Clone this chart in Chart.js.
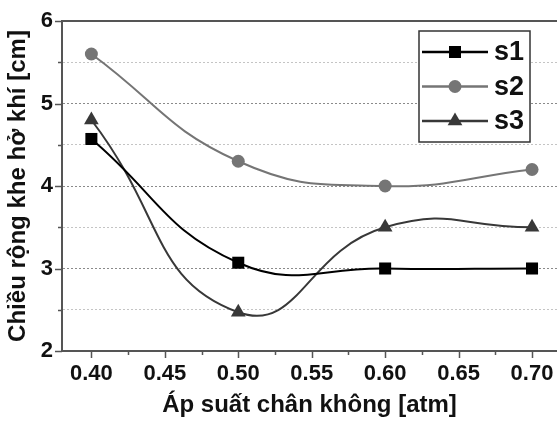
<!DOCTYPE html>
<html>
<head>
<meta charset="utf-8">
<script src="https://cdn.jsdelivr.net/npm/chart.js@4.4.1/dist/chart.umd.min.js"></script>
<style>
  html, body { margin: 0; padding: 0; background: #fff; }
  #wrap { width: 557px; height: 425px; }
</style>
</head>
<body>
<div id="wrap"><canvas id="c" width="557" height="425"></canvas></div>
<script>
// data
const pressure = [0.40, 0.50, 0.60, 0.70];
const s1 = [4.57, 3.07, 3.00, 3.00];
const s2 = [5.60, 4.30, 4.00, 4.20];
const s3 = [4.80, 2.47, 3.50, 3.50];
const seriesNames = ['s1', 's2', 's3'];
const xTicks = [0.40, 0.45, 0.50, 0.55, 0.60, 0.65, 0.70];
const xMinorTicks = [0.425, 0.475, 0.525, 0.575, 0.625, 0.675, 0.725];
const yTicks = [2, 2.5, 3, 3.5, 4, 4.5, 5, 5.5, 6];

const FONT = "'Liberation Sans', Arial, sans-serif";
const AXIS = '#555';

const toPoints = vals => vals.map((v, i) => ({ x: pressure[i], y: v }));

// draws tick marks, top frame line and the boxed legend
const frame = {
    id: 'frame',
    afterDraw(chart) {
        const ctx = chart.ctx;
        const area = chart.chartArea;
        const xs = chart.scales.x, ys = chart.scales.y;
        ctx.save();
        ctx.strokeStyle = AXIS;
        ctx.lineWidth = 2;
        ctx.beginPath();
        ctx.moveTo(area.left - 1, area.top);
        ctx.lineTo(area.right, area.top);
        ctx.stroke();

        ctx.lineWidth = 1.5;
        ctx.beginPath();
        xTicks.forEach(v => {
            const px = Math.round(xs.getPixelForValue(v)) + 0.5;
            ctx.moveTo(px, area.bottom); ctx.lineTo(px, area.bottom + 7);
        });
        xMinorTicks.forEach(v => {
            const px = Math.round(xs.getPixelForValue(v)) + 0.5;
            if (px > area.right) return;
            ctx.moveTo(px, area.bottom); ctx.lineTo(px, area.bottom + 4);
        });
        yTicks.forEach(v => {
            const py = Math.round(ys.getPixelForValue(v)) + 0.5;
            const len = Number.isInteger(v) ? 7 : 4;
            ctx.moveTo(area.left, py); ctx.lineTo(area.left - len, py);
        });
        ctx.stroke();

        // legend box
        const bx = 419, by = 31, bw = 111, bh = 111;
        ctx.fillStyle = '#fff';
        ctx.fillRect(bx, by, bw, bh);
        ctx.strokeStyle = '#333';
        ctx.lineWidth = 1.5;
        ctx.strokeRect(bx, by, bw, bh);
        chart.data.datasets.forEach((ds, i) => {
            const cy = 52 + i * 34.5;
            ctx.strokeStyle = ds.borderColor;
            ctx.lineWidth = 2.5;
            ctx.beginPath();
            ctx.moveTo(422, cy); ctx.lineTo(488, cy);
            ctx.stroke();
            ctx.fillStyle = ds.pointBackgroundColor;
            Chart.helpers.drawPoint(ctx, {
                pointStyle: ds.pointStyle, radius: ds.pointRadius, rotation: 0, borderWidth: 0
            }, 455, cy);
            ctx.fillStyle = '#111';
            ctx.font = 'bold 27px ' + FONT;
            ctx.textBaseline = 'middle';
            ctx.textAlign = 'left';
            ctx.fillText(seriesNames[i], 494, cy + 1);
        });
        ctx.restore();
    }
};

const mkSet = (label, vals, color, style, r, tension) => ({
    label, data: toPoints(vals),
    borderColor: color, backgroundColor: color,
    pointBackgroundColor: color, pointBorderColor: color,
    pointStyle: style, pointRadius: r, pointBorderWidth: 0,
    borderWidth: 2, tension, fill: false
});

new Chart(document.getElementById('c'), {
    type: 'line',
    data: {
        datasets: [
            mkSet(seriesNames[0], s1, '#000000', 'rect', 8.5, 0.45),
            mkSet(seriesNames[1], s2, '#757575', 'circle', 6.5, 0.45),
            mkSet(seriesNames[2], s3, '#383838', 'triangle', 8.5, 0.5)
        ]
    },
    options: {
        responsive: false,
        animation: false,
        clip: false,
        layout: { autoPadding: false, padding: { top: 21, right: 0, left: 0, bottom: 0 } },
        plugins: { legend: { display: false }, tooltip: { enabled: false } },
        scales: {
            x: {
                type: 'linear', min: 0.38, max: 0.717,
                afterBuildTicks: s => { s.ticks = xTicks.map(v => ({ value: v })); },
                afterFit: s => { s.height = 74; s.paddingRight = 0; s.paddingLeft = 0; },
                grid: { display: true, drawOnChartArea: false, drawTicks: false },
                border: { display: true, color: AXIS, width: 2 },
                ticks: {
                    padding: 10, color: '#111', maxRotation: 0,
                    font: { family: FONT, size: 22, weight: 'bold' },
                    callback: v => v.toFixed(2)
                },
                title: {
                    display: true, text: 'Áp suất chân không [atm]', color: '#111',
                    font: { family: FONT, size: 24, weight: 'bold' },
                    padding: { top: 0, bottom: 5 }
                }
            },
            y: {
                min: 2, max: 6,
                afterBuildTicks: s => { s.ticks = yTicks.map(v => ({ value: v })); },
                afterFit: s => { s.width = 62; s.paddingTop = 0; s.paddingBottom = 0; },
                grid: {
                    drawTicks: false,
                    color: c => (Number.isInteger(c.tick.value) ? '#8a8a8a' : '#c4c4c4'),
                    lineWidth: c => (c.tick.value === 2 || c.tick.value === 6 ? 0 : 1)
                },
                border: { display: true, color: AXIS, width: 2, dash: [2, 2] },
                ticks: {
                    padding: 9, color: '#111',
                    font: { family: FONT, size: 22, weight: 'bold' },
                    callback: v => (Number.isInteger(v) ? String(v) : '')
                },
                title: {
                    display: true, text: 'Chiều rộng khe hở khí [cm]', color: '#111',
                    font: { family: FONT, size: 24, weight: 'bold' },
                    padding: { top: 4, bottom: 0 }
                }
            }
        }
    },
    plugins: [frame]
});
</script>
</body>
</html>
